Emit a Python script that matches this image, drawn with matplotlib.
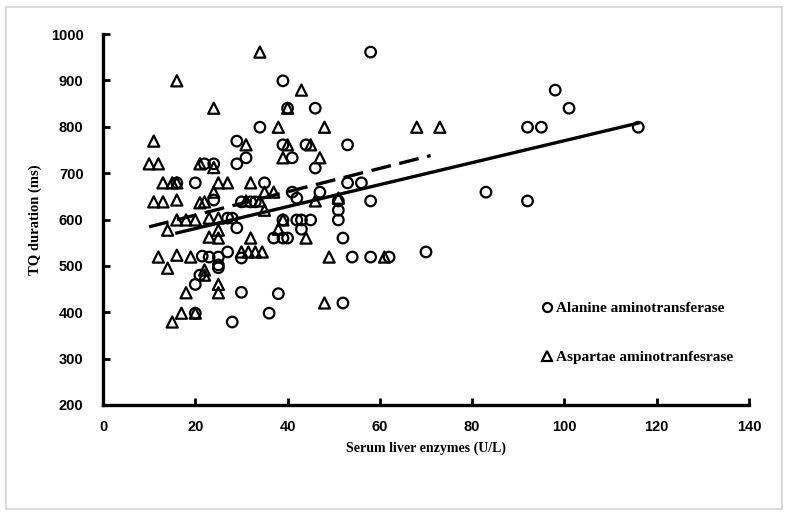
import matplotlib
matplotlib.use('Agg')
import matplotlib.pyplot as plt
from matplotlib.lines import Line2D
from matplotlib.patches import Rectangle
import numpy as np

# ALT (circles) and AST (triangles): serum level (U/L) vs TQ duration (ms)
alt_x = [58, 39, 98, 101, 40, 46, 34, 92, 95, 116,
         53, 39, 44, 29, 31, 41, 46, 22, 24, 29,
         16, 20, 35, 53, 56, 41, 47, 42, 24, 30,
         32, 33, 51, 58, 51, 51, 27, 28, 39, 42,
         43, 45, 29, 43, 37, 39, 40, 52, 21.5, 23,
         25, 27, 30, 25, 54, 58, 62, 70, 83, 92,
         25, 21, 20, 30, 38, 20, 28, 36, 52]
alt_y = [961, 899, 879, 840, 840, 840, 799, 799, 799, 799,
         761, 761, 761, 769, 733, 733, 711, 720, 720, 720,
         679, 679, 679, 679, 679, 659, 659, 646, 642, 638,
         638, 638, 640, 640, 620, 599, 603, 603, 599, 599,
         599, 599, 582, 579, 560, 560, 560, 560, 521, 519,
         519, 530, 517, 502, 519, 519, 519, 530, 659, 640,
         496, 480, 460, 443, 440, 398, 379, 398, 420]

ast_x = [34, 16, 43, 24, 40, 38, 48, 68, 73, 11,
         40, 45, 31, 39, 47, 10, 12, 21, 24, 13,
         15, 16, 25, 27, 32, 35, 37, 24, 11, 13,
         16, 21, 22, 31, 34, 46, 51, 35, 16, 18,
         20, 23, 25, 39, 14, 25, 38, 23, 25, 32,
         44, 12, 16, 19, 30, 31.5, 33, 34.5, 49, 61,
         14, 22, 22, 25, 25, 18, 17, 20, 15, 48]
ast_y = [961, 899, 879, 840, 840, 799, 799, 799, 799, 769,
         761, 761, 761, 733, 733, 720, 720, 720, 712, 679,
         679, 679, 679, 679, 679, 659, 659, 659, 638, 638,
         642, 636, 638, 640, 640, 640, 646, 620, 599, 599,
         599, 603, 603, 599, 577, 577, 579, 562, 560, 560,
         560, 519, 523, 519, 530, 530, 530, 530, 519, 519,
         495, 491, 480, 460, 442, 442, 398, 398, 379, 420]

# linear trend lines (slope, intercept, x-range) as drawn in the chart
alt_fit = (2.37, 533.0)
alt_range = (16, 116)
ast_fit = (2.52, 559.0)
ast_range = (10, 71)

xticks = [0, 20, 40, 60, 80, 100, 120, 140]
yticks = [200, 300, 400, 500, 600, 700, 800, 900, 1000]

SERIF = ['Liberation Serif', 'DejaVu Serif']
TICKFONT = ['Liberation Sans Narrow', 'Liberation Sans', 'DejaVu Sans']

fig = plt.figure(figsize=(7.87, 5.16), dpi=100)
fig.patches.append(Rectangle((6/787, 7/516), 776/787, 502/516, transform=fig.transFigure,
                             fill=False, edgecolor='#d4d4d4', linewidth=1.2))
ax = fig.add_axes([103/787, 1 - 405/516, 646/787, 371/516])

ax.scatter(alt_x, alt_y, s=58, marker='o', facecolors='none', edgecolors='black',
           linewidths=1.6, zorder=3)
ax.scatter(ast_x, ast_y, s=64, marker='^', facecolors='none', edgecolors='black',
           linewidths=1.6, zorder=3)

xs = np.array(alt_range)
ax.plot(xs, alt_fit[0]*xs + alt_fit[1], color='black', lw=2.4, zorder=4)
xs = np.array(ast_range)
ax.plot(xs, ast_fit[0]*xs + ast_fit[1], color='black', lw=2.4, zorder=4,
        linestyle=(0, (6.0, 2.6)), dash_capstyle='butt')

ax.set_xlim(0, 140)
ax.set_ylim(200, 1000)
ax.set_xticks(xticks)
ax.set_yticks(yticks)
for s in ['top', 'right']:
    ax.spines[s].set_visible(False)
for s in ['left', 'bottom']:
    ax.spines[s].set_linewidth(2.4)
ax.tick_params(direction='in', length=5, width=2)
ax.tick_params(axis='y', pad=14)
ax.tick_params(axis='x', pad=11)
for lab in ax.get_xticklabels() + ax.get_yticklabels():
    lab.set_family(TICKFONT)
    lab.set_fontweight('bold')
    lab.set_fontsize(10.5)

ax.set_xlabel('Serum liver enzymes (U/L)', family=SERIF, fontweight='bold', fontsize=10, labelpad=5)
ax.set_ylabel('TQ duration (ms)', family=SERIF, fontweight='bold', fontsize=10.5, labelpad=6)

handles = [Line2D([], [], marker='o', ls='none', mfc='none', mec='black', mew=1.6, ms=6.5),
           Line2D([], [], marker='^', ls='none', mfc='none', mec='black', mew=1.6, ms=7)]
ax.legend(handles, ['Alanine aminotransferase', 'Aspartae aminotranfesrase'],
          loc='upper left', bbox_to_anchor=(0.67, 0.295), frameon=False,
          prop={'family': SERIF, 'weight': 'bold', 'size': 11},
          handlelength=0.6, handletextpad=0.3, labelspacing=2.3, borderaxespad=0)

fig.savefig('out.png', dpi=100)
